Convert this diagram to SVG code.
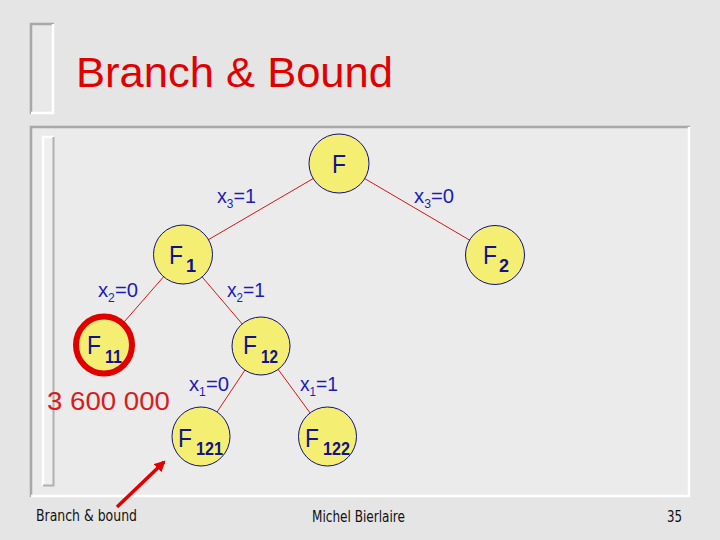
<svg xmlns="http://www.w3.org/2000/svg" width="720" height="540" viewBox="0 0 720 540">
<defs>
<style>
.node{fill:#f4ef72;stroke:#10107a;stroke-width:1}
.nl{font-family:"Liberation Sans",Arial,sans-serif;fill:#12128c;font-size:26px}
.sub{font-family:"Liberation Sans",Arial,sans-serif;fill:#12128c;font-size:18px;font-weight:bold}
.lab{font-family:"Liberation Sans",Arial,sans-serif;fill:#1c1cb4;font-size:20px}
.lsub{font-size:12px}
.edge{stroke:#d01818;stroke-width:1;fill:none}
.foot{font-family:"DejaVu Sans","Liberation Sans",sans-serif;font-size:15px;fill:#111}
</style>
<marker id="ah" viewBox="0 0 10 10" refX="8" refY="5" markerWidth="3.2" markerHeight="3.2" orient="auto" markerUnits="strokeWidth">
<path d="M0,0 L10,5 L0,10 z" fill="#e00000"/>
</marker>
</defs>
<rect x="0" y="0" width="720" height="540" fill="#e5e5e5"/>
<g id="title-bracket">
<rect x="30" y="23" width="24" height="91" fill="#e9e9e9"/>
<path d="M31,114 V24 H54" stroke="#a8a8a8" stroke-width="2.5" fill="none"/>
<path d="M53,24 V113 H31" stroke="#ffffff" stroke-width="2.5" fill="none"/>
</g>
<text x="76" y="87" font-family="Liberation Sans,Arial,sans-serif" font-size="43" fill="#e00000" textLength="317" lengthAdjust="spacingAndGlyphs">Branch &amp; Bound</text>
<g id="panel">
<rect x="30" y="126" width="660" height="371" fill="#ebebeb"/>
<path d="M31,497 V127 H690" stroke="#a8a8a8" stroke-width="2.5" fill="none"/>
<path d="M689,127 V496 H31" stroke="#ffffff" stroke-width="2.5" fill="none"/>
<rect x="42" y="136" width="12" height="350" fill="#efefef"/>
<path d="M43,486 V137 H54" stroke="#ffffff" stroke-width="2.5" fill="none"/>
<path d="M53.5,137 V485.5 H43" stroke="#b0b0b0" stroke-width="2" fill="none"/>
</g>
<g id="connectors">
<line class="edge" x1="339" y1="163.5" x2="183" y2="254.5"/>
<line class="edge" x1="339" y1="163.5" x2="495" y2="255"/>
<line class="edge" x1="183" y1="254.5" x2="104" y2="345"/>
<line class="edge" x1="183" y1="254.5" x2="261" y2="346"/>
<line class="edge" x1="261" y1="346" x2="201" y2="436"/>
<line class="edge" x1="261" y1="346" x2="327" y2="436"/>
</g>
<g id="edge-labels">
<text class="lab" x="217" y="203" textLength="39" lengthAdjust="spacingAndGlyphs">x<tspan class="lsub" dy="5">3</tspan><tspan dy="-5">=1</tspan></text>
<text class="lab" x="414" y="203" textLength="40" lengthAdjust="spacingAndGlyphs">x<tspan class="lsub" dy="5">3</tspan><tspan dy="-5">=0</tspan></text>
<text class="lab" x="98" y="297" textLength="40" lengthAdjust="spacingAndGlyphs">x<tspan class="lsub" dy="5">2</tspan><tspan dy="-5">=0</tspan></text>
<text class="lab" x="227" y="297" textLength="38" lengthAdjust="spacingAndGlyphs">x<tspan class="lsub" dy="5">2</tspan><tspan dy="-5">=1</tspan></text>
<text class="lab" x="189" y="391" textLength="40" lengthAdjust="spacingAndGlyphs">x<tspan class="lsub" dy="5">1</tspan><tspan dy="-5">=0</tspan></text>
<text class="lab" x="300" y="391" textLength="38" lengthAdjust="spacingAndGlyphs">x<tspan class="lsub" dy="5">1</tspan><tspan dy="-5">=1</tspan></text>
</g>
<g id="node-F">
<ellipse class="node" cx="339" cy="163.5" rx="30" ry="29.5"/>
<text class="nl" x="332" y="173" textLength="14" lengthAdjust="spacingAndGlyphs">F</text>
</g>
<g id="node-F1">
<ellipse class="node" cx="183" cy="254.5" rx="29.5" ry="29.5"/>
<text class="nl" x="169" y="264" textLength="14" lengthAdjust="spacingAndGlyphs">F</text>
<text class="sub" x="186" y="272">1</text>
</g>
<g id="node-F2">
<ellipse class="node" cx="495" cy="255" rx="29.5" ry="29.5"/>
<text class="nl" x="483" y="264" textLength="14" lengthAdjust="spacingAndGlyphs">F</text>
<text class="sub" x="499" y="272">2</text>
</g>
<g id="node-F11">
<ellipse cx="104" cy="345" rx="28" ry="28.5" fill="#f4ef72" stroke="#e00000" stroke-width="6"/>
<text class="nl" x="87" y="354" textLength="14" lengthAdjust="spacingAndGlyphs">F</text>
<text class="sub" x="105" y="363" textLength="17" lengthAdjust="spacingAndGlyphs">11</text>
</g>
<g id="node-F12">
<ellipse class="node" cx="261" cy="346" rx="29" ry="29"/>
<text class="nl" x="243" y="354" textLength="14" lengthAdjust="spacingAndGlyphs">F</text>
<text class="sub" x="261" y="363" textLength="17" lengthAdjust="spacingAndGlyphs">12</text>
</g>
<g id="node-F121">
<ellipse class="node" cx="201" cy="436.5" rx="29" ry="29.5"/>
<text class="nl" x="178" y="447" textLength="14" lengthAdjust="spacingAndGlyphs">F</text>
<text class="sub" x="196" y="455" textLength="27" lengthAdjust="spacingAndGlyphs">121</text>
</g>
<g id="node-F122">
<ellipse class="node" cx="327.5" cy="436.5" rx="29" ry="29.5"/>
<text class="nl" x="305" y="447" textLength="14" lengthAdjust="spacingAndGlyphs">F</text>
<text class="sub" x="323" y="455" textLength="27" lengthAdjust="spacingAndGlyphs">122</text>
</g>
<text x="47" y="410" font-family="Liberation Sans,Arial,sans-serif" font-size="26" fill="#d81c1c" textLength="123" lengthAdjust="spacingAndGlyphs">3 600 000</text>
<line x1="117" y1="507" x2="164" y2="462" stroke="#e00000" stroke-width="3.5" marker-end="url(#ah)"/>
<text class="foot" x="36" y="521" textLength="101" lengthAdjust="spacingAndGlyphs">Branch &amp; bound</text>
<text class="foot" x="312" y="522" textLength="93" lengthAdjust="spacingAndGlyphs">Michel Bierlaire</text>
<text class="foot" x="667" y="522" textLength="15" lengthAdjust="spacingAndGlyphs">35</text>
</svg>
